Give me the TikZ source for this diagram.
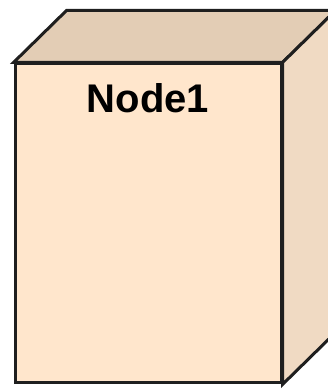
\documentclass[tikz,border=0pt]{standalone}
\usepackage{fontspec}
\setmainfont{Liberation Sans}
\usetikzlibrary{positioning}

\begin{document}
\begin{tikzpicture}[
    x=1pt, y=1pt,
    face/.style={draw=black!88, line width=3pt, line join=miter},
    frontface/.style={
      face, minimum width=266pt,
      minimum height=319pt, inner sep=0pt
    },
    title/.style={font=\fontsize{40}{44}\selectfont\bfseries, inner sep=0pt},
  ]
    \useasboundingbox (0,0) rectangle (328,389);
    \definecolor{nodefront}{RGB}{255,230,204}
    \definecolor{nodetop}{RGB}{227,205,181}
    \definecolor{nodeside}{RGB}{240,218,195}
    \node[frontface, fill=nodefront] (front) at (148,165.5) {};
    \coordinate (d) at (53,52);
    % top and side faces
    \draw[face, fill=nodetop] (front.north west) -- ++(d) -- ([shift={(d)}]front.north east)
      -- (front.north east) -- cycle;
    \draw[face, fill=nodeside] (front.north east) -- ++(d) -- ([shift={(d)}]front.south east)
      -- (front.south east) -- cycle;
    \node[title, below=21pt of front.north] (name) {Node1};
  \end{tikzpicture}
\end{document}
